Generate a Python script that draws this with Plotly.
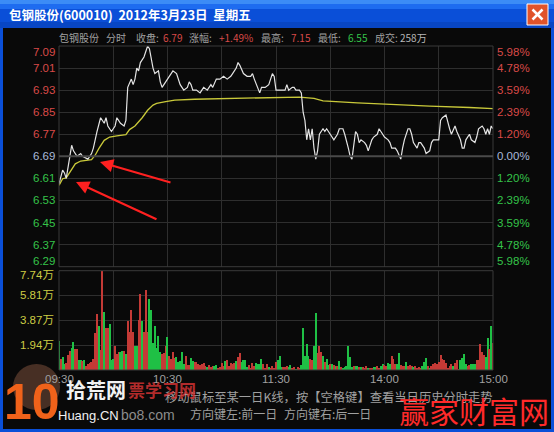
import plotly.graph_objects as go

W, H = 554, 432

# minute index: 0 = 09:30, 120 = 11:30 / 13:00, 240 = 15:00
price_min = [0, 2, 3, 4, 7, 8, 10, 12, 13, 16, 18, 19, 21, 23, 25, 26, 27, 29, 31, 32,
             34, 36, 37, 38, 40, 41, 42, 43, 44, 45, 47, 49, 50, 52, 53, 55, 56, 57, 59, 60,
             63, 65, 67, 69, 71, 72, 73, 74, 76, 78, 80, 82, 84, 85, 87, 89, 91, 93, 95, 96,
             98, 99, 100, 102, 104, 106, 107, 108, 110, 111, 112, 114, 116, 118, 119, 120, 121, 123, 125, 126,
             127, 129, 130, 131, 133, 134, 135, 136, 137, 138, 139, 140, 141, 142, 143, 144, 146, 147, 148, 150,
             151, 152, 154, 155, 157, 158, 160, 161, 162, 163, 164, 165, 166, 167, 169, 170, 171, 173, 174, 176,
             177, 178, 180, 182, 183, 184, 186, 187, 189, 190, 191, 193, 194, 195, 196, 198, 199, 200, 202, 203,
             205, 206, 207, 209, 210, 211, 212, 214, 215, 216, 217, 219, 220, 222, 223, 224, 225, 227, 228, 230,
             231, 232, 234, 235, 236, 237, 238, 239, 240]
price = [6.59, 6.64, 6.63, 6.61, 6.73, 6.71, 6.69, 6.70, 6.69, 6.68, 6.70, 6.72, 6.78, 6.83, 6.81, 6.83, 6.80, 6.78, 6.80, 6.83,
         6.81, 6.80, 6.82, 6.94, 6.97, 6.95, 6.97, 7.01, 7.00, 7.03, 7.05, 7.09, 7.08, 7.01, 6.99, 7.00, 6.96, 6.94, 6.96, 6.97,
         7.00, 6.99, 6.95, 6.93, 6.94, 6.96, 6.95, 6.93, 6.93, 6.92, 6.94, 6.93, 6.95, 6.94, 6.97, 6.97, 6.98, 6.97, 6.98, 6.99,
         7.01, 7.03, 7.02, 6.99, 6.98, 6.98, 6.99, 6.97, 6.94, 6.92, 6.94, 6.94, 6.95, 6.99, 6.98, 6.93, 6.93, 6.93, 6.93, 6.95,
         6.93, 6.94, 6.94, 6.93, 6.93, 6.92, 6.85, 6.82, 6.75, 6.79, 6.75, 6.79, 6.72, 6.68, 6.71, 6.77, 6.79, 6.78, 6.79, 6.77,
         6.76, 6.75, 6.77, 6.79, 6.79, 6.77, 6.72, 6.69, 6.68, 6.74, 6.78, 6.77, 6.74, 6.75, 6.74, 6.73, 6.71, 6.75, 6.76, 6.77,
         6.79, 6.78, 6.76, 6.75, 6.74, 6.72, 6.72, 6.71, 6.68, 6.72, 6.75, 6.79, 6.79, 6.77, 6.74, 6.72, 6.74, 6.74, 6.72, 6.70,
         6.71, 6.74, 6.75, 6.75, 6.75, 6.82, 6.83, 6.84, 6.81, 6.79, 6.77, 6.80, 6.78, 6.75, 6.72, 6.72, 6.75, 6.77, 6.75, 6.74,
         6.76, 6.79, 6.80, 6.79, 6.77, 6.79, 6.77, 6.80, 6.79]

avg_min = [0, 2, 4, 7, 9, 12, 16, 18, 20, 22, 25, 28, 32, 37, 39, 42, 46, 49, 52, 54,
           59, 64, 75, 96, 102, 128, 133, 141, 146, 165, 187, 205, 227, 240]
avg_price = [6.585, 6.609, 6.612, 6.645, 6.663, 6.673, 6.675, 6.678, 6.694, 6.718, 6.748, 6.760, 6.764, 6.769, 6.787,
             6.800, 6.830, 6.857, 6.876, 6.882, 6.888, 6.894, 6.897, 6.900, 6.903, 6.905, 6.905, 6.900, 6.891, 6.884,
             6.876, 6.872, 6.867, 6.863]

# volume per minute, in 万
vol = [2.30, 0.90, 1.05, 0.46, 0.54, 1.23, 1.53, 1.74, 2.20, 1.69,
       1.69, 0.84, 0.79, 0.72, 0.84, 0.33, 0.51, 0.54, 0.66, 0.92,
       2.94, 4.42, 3.47, 1.61, 7.71, 4.55, 3.27, 3.27, 3.60, 0.84,
       0.89, 1.92, 1.30, 1.40, 1.43, 1.53, 1.53, 1.28, 3.83, 2.96,
       4.67, 2.96, 1.86, 1.86, 3.91, 5.95, 3.83, 2.96, 6.26, 2.96,
       5.52, 4.67, 2.12, 3.47, 1.74, 2.68, 1.43, 1.28, 1.35, 1.86,
       2.63, 1.10, 0.92, 1.43, 0.97, 1.02, 0.64, 0.72, 1.43, 0.46,
       1.10, 0.41, 0.41, 0.97, 0.72, 0.66, 0.66, 0.46, 0.38, 0.51,
       0.54, 0.33, 0.26, 0.38, 0.26, 0.33, 0.33, 0.38, 0.20, 0.26,
       0.54, 0.33, 0.72, 0.84, 0.33, 0.54, 0.46, 0.54, 0.72, 1.02,
       1.35, 0.64, 0.77, 0.84, 0.26, 0.38, 0.20, 0.54, 0.33, 0.54,
       0.46, 0.46, 0.89, 0.46, 0.20, 0.46, 0.26, 0.20, 0.33, 0.20,
       0.64, 0.84, 1.15, 0.26, 0.26, 0.26, 0.33, 0.26, 0.38, 0.20,
       0.26, 0.13, 0.26, 0.20, 0.38, 3.27, 1.15, 2.04, 1.10, 0.92,
       0.84, 1.86, 4.50, 1.35, 1.92, 1.43, 1.15, 0.64, 0.89, 0.38,
       0.46, 0.51, 0.38, 0.33, 0.33, 0.72, 0.26, 0.20, 0.26, 0.33,
       1.86,
       1.04, 0.26, 0.31, 0.31, 0.31, 0.26, 0.26, 0.26, 0.21, 0.31,
       0.21, 0.21, 0.21, 0.26, 0.26, 0.31, 0.21, 0.36, 0.52, 0.39,
       0.31, 0.57, 0.52, 1.09, 0.91, 0.52, 0.52, 1.35, 0.39, 0.31,
       0.31, 0.65, 0.31, 0.39, 0.31, 0.26, 0.31, 0.21, 0.26, 0.21,
       0.31, 0.65, 0.99, 0.31, 0.21, 0.31, 0.52, 0.57, 0.52, 0.65,
       1.17, 0.91, 0.83, 0.57, 0.21, 0.31, 0.52, 0.31, 0.57, 0.83,
       0.13, 0.83, 0.99, 1.30, 0.52, 0.31, 0.39, 0.47, 0.47, 0.47,
       0.83, 0.78, 2.03, 1.43, 1.17, 1.04, 2.55, 1.69, 3.43, 2.13]
# r = up minute, g = down minute
vol_dir = ("grggrrrggr" "rggrgrrrrr" "rrgrrgrrgg" "grrrggrgrr" "rrggrrgrrr" "gggggggrrr" "grrrrggggg" "rrrggrrrrr"
           "rrgrrrggrr" "rrgrrrrrgr" "rggggrrrrg" "gggrrrgrrr" "rgggrrrggr" "rgrrgggggr" "rggrrrgrgg" "rgrgrgrggg" "g"
           "ggrggrgrrr" "grrggrrggr" "rggrrrggrr" "rgrrrgrrrr" "gggrgrrrrr" "rrrrrrrgrr" "rggggrrggg" "rrrrrggrgr")

price_ticks = [6.29, 6.37, 6.45, 6.53, 6.61, 6.69, 6.77, 6.85, 6.93, 7.01, 7.09]
pct_labels = ["5.98%", "4.78%", "3.59%", "2.39%", "1.20%", "0.00%", "1.20%", "2.39%", "3.59%", "4.78%", "5.98%"]
prev_close = 6.69
vol_ticks = [1.94, 3.87, 5.81, 7.74]
time_ticks = [0, 60, 120, 180, 240]
time_labels = ["09:30", "10:30", "11:30", "14:00", "15:00"]

RED, GREEN, FLAT = "#d94a48", "#35c44a", "#a9b9d9"
GRAY = "#a0a0a0"
GRID = "#2e2e2e"
NUM = "Liberation Sans, Arial, Noto Sans CJK SC"
CJK = "Noto Sans CJK SC, Liberation Sans"


def px(x):
    return x / W


def py(y):
    return 1 - y / H


def text(t, x, y, color, size=11, anchor="left", family=CJK, bold=False):
    font = dict(color=color, size=size, family=family)
    if bold:
        font["weight"] = "bold"
    return dict(text=t, x=px(x), y=py(y), xref="paper", yref="paper", xanchor=anchor,
                yanchor="middle", showarrow=False, font=font)


def rect(x0, y0, x1, y1, fill, line=None, width=0):
    return dict(type="rect", xref="paper", yref="paper", x0=px(x0), x1=px(x1), y0=py(y0), y1=py(y1),
                fillcolor=fill, line=dict(color=line or fill, width=width), layer="below")


X0, X1 = 59, 493
P_TOP, P_BOT = 46, 266.7
V_TOP, V_BOT = 270.7, 370

fig = go.Figure()
fig.add_trace(go.Bar(
    x=list(range(len(vol))), y=vol, xaxis="x2", yaxis="y2", width=0.62,
    marker=dict(color=["#c43a36" if d == "r" else "#1fc045" for d in vol_dir], line_width=0),
))
fig.add_trace(go.Scatter(x=avg_min, y=avg_price, mode="lines", line=dict(color="#c9c93a", width=1.3)))
fig.add_trace(go.Scatter(x=price_min, y=price, mode="lines", line=dict(color="#e4e4e4", width=1.2)))

shapes = [
    # window frame and title bar
    rect(0, 0, W, H, "#0a4fd8"),
    rect(3, 28, 551, 429, "#090909"),
    rect(0, 0, W, 4, "#3c8cf6"),
    rect(0, 4, W, 9, "#1e6cf0"),
    rect(0, 22, W, 28, "#0846c4"),
    # chart borders
    dict(type="rect", xref="paper", yref="paper", x0=px(X0), x1=px(X1), y0=py(P_BOT), y1=py(P_TOP),
         line=dict(color="#3a3a3a", width=1)),
    dict(type="rect", xref="paper", yref="paper", x0=px(X0), x1=px(X1), y0=py(V_BOT), y1=py(V_TOP),
         line=dict(color="#3a3a3a", width=1)),
    dict(type="line", xref="paper", yref="y", x0=px(X0), x1=px(X1), y0=prev_close, y1=prev_close,
         line=dict(color="#4a4a4a", width=2)),
    # close button
    dict(type="rect", xref="paper", yref="paper", x0=px(527), x1=px(548), y0=py(25), y1=py(4),
         fillcolor="#e0532a", line=dict(color="#ffffff", width=1)),
    dict(type="line", xref="paper", yref="paper", x0=px(532.5), x1=px(542.5), y0=py(9.5), y1=py(19.5),
         line=dict(color="#ffffff", width=2.5)),
    dict(type="line", xref="paper", yref="paper", x0=px(532.5), x1=px(542.5), y0=py(19.5), y1=py(9.5),
         line=dict(color="#ffffff", width=2.5)),
    # watermark disc
    dict(type="circle", xref="paper", yref="paper", x0=px(13), x1=px(60), y0=py(410), y1=py(364),
         fillcolor="rgba(190,120,90,0.35)", line=dict(width=0)),
]

ann = [text("包钢股份(600010)  2012年3月23日  星期五", 7, 15, "#ffffff", size=12.5, bold=True)]

header = [("包钢股份", 57, GRAY), ("分时", 104, GRAY), ("收盘:", 134, GRAY), ("6.79", 161, RED),
          ("涨幅:", 187, GRAY), ("+1.49%", 217, RED), ("最高:", 259, GRAY), ("7.15", 289, RED),
          ("最低:", 316, GRAY), ("6.55", 346, GREEN), ("成交:", 373, GRAY), ("258万", 398, "#b8b8b8")]
for t, x, c in header:
    ann.append(text(t, x, 37, c, size=10))

for i, (v, pct) in enumerate(zip(reversed(price_ticks), pct_labels)):
    c = RED if v > prev_close + 1e-9 else (GREEN if v < prev_close - 1e-9 else FLAT)
    shift = -6 if i == 0 else (6 if i == len(price_ticks) - 1 else 0)
    for t, x, a in ((f"{v:.2f}", 57, "right"), (pct, 495, "left")):
        ann.append(dict(text=t, x=px(x), y=v, xref="paper", yref="y", xanchor=a, yanchor="middle",
                        yshift=shift, showarrow=False, font=dict(color=c, size=11.5, family=NUM)))

for v in vol_ticks:
    ann.append(dict(text=f"{v:.2f}万", x=px(56), y=v, xref="paper", yref="y2", xanchor="right",
                    yanchor="middle", yshift=-4 if v == vol_ticks[-1] else 0, showarrow=False,
                    font=dict(color="#cccc44", size=11.5, family=NUM)))

for m, lab in zip(time_ticks, time_labels):
    ann.append(dict(text=lab, x=m, y=py(379), xref="x2", yref="paper", xanchor="center", yanchor="middle",
                    showarrow=False, font=dict(color=GRAY, size=11.5, family=NUM)))

ann.append(text("移动鼠标至某一日K线，按【空格键】查看当日历史分时走势", 163, 397, GRAY, size=12.3))
ann.append(text("方向键左:前一日", 188, 413, GRAY, size=12))
ann.append(text("方向键右:后一日", 282, 413, GRAY, size=12))

# red arrows
ann.append(dict(x=px(100), y=py(162), xref="paper", yref="paper", ax=72, ay=21, text="", showarrow=True,
                arrowhead=2, arrowsize=1.2, arrowwidth=2.2, arrowcolor="#ff2020"))
ann.append(dict(x=px(76), y=py(182), xref="paper", yref="paper", ax=82, ay=38, text="", showarrow=True,
                arrowhead=2, arrowsize=1.2, arrowwidth=2.2, arrowcolor="#ff2020"))

# watermarks
ann.append(text("10", 32, 402, "#f0621a", size=50, anchor="center",
                family="Liberation Sans Narrow, Liberation Sans", bold=True))
ann.append(text("拾荒网", 64, 389, "#f2f2f2", size=20, bold=True))
ann.append(text("票学习网", 126, 389, "rgba(210,50,50,0.85)", size=17, bold=True))
ann.append(text("Huang.CN", 56, 415, "#f0f0f0", size=13, family=NUM))
ann.append(text("bo8.com", 119, 415, "#8c8c8c", size=14, family=NUM))
ann.append(text("赢家财富网", 474, 410, "#ff2a2a", size=30, anchor="center"))

axis_common = dict(showticklabels=False, zeroline=False, showline=False, ticks="", gridcolor=GRID, gridwidth=1)
fig.update_layout(
    width=W, height=H, margin=dict(l=0, r=0, t=0, b=0),
    paper_bgcolor="#090909", plot_bgcolor="rgba(0,0,0,0)", showlegend=False, bargap=0,
    xaxis=dict(domain=[px(X0), px(X1)], range=[0, 240], tickvals=list(range(0, 241, 30)), anchor="y", **axis_common),
    yaxis=dict(domain=[py(P_BOT), py(P_TOP)], range=[price_ticks[0], price_ticks[-1]], tickvals=price_ticks,
               anchor="x", **axis_common),
    xaxis2=dict(domain=[px(X0), px(X1)], range=[0, 240], tickvals=list(range(0, 241, 30)), anchor="y2",
                **axis_common),
    yaxis2=dict(domain=[py(V_BOT), py(V_TOP)], range=[0, vol_ticks[-1]], tickvals=vol_ticks, anchor="x2",
                **axis_common),
    shapes=shapes, annotations=ann,
)
fig.write_html("out.html", config={"displayModeBar": False},
               post_script="document.body.style.margin = '0px';")
